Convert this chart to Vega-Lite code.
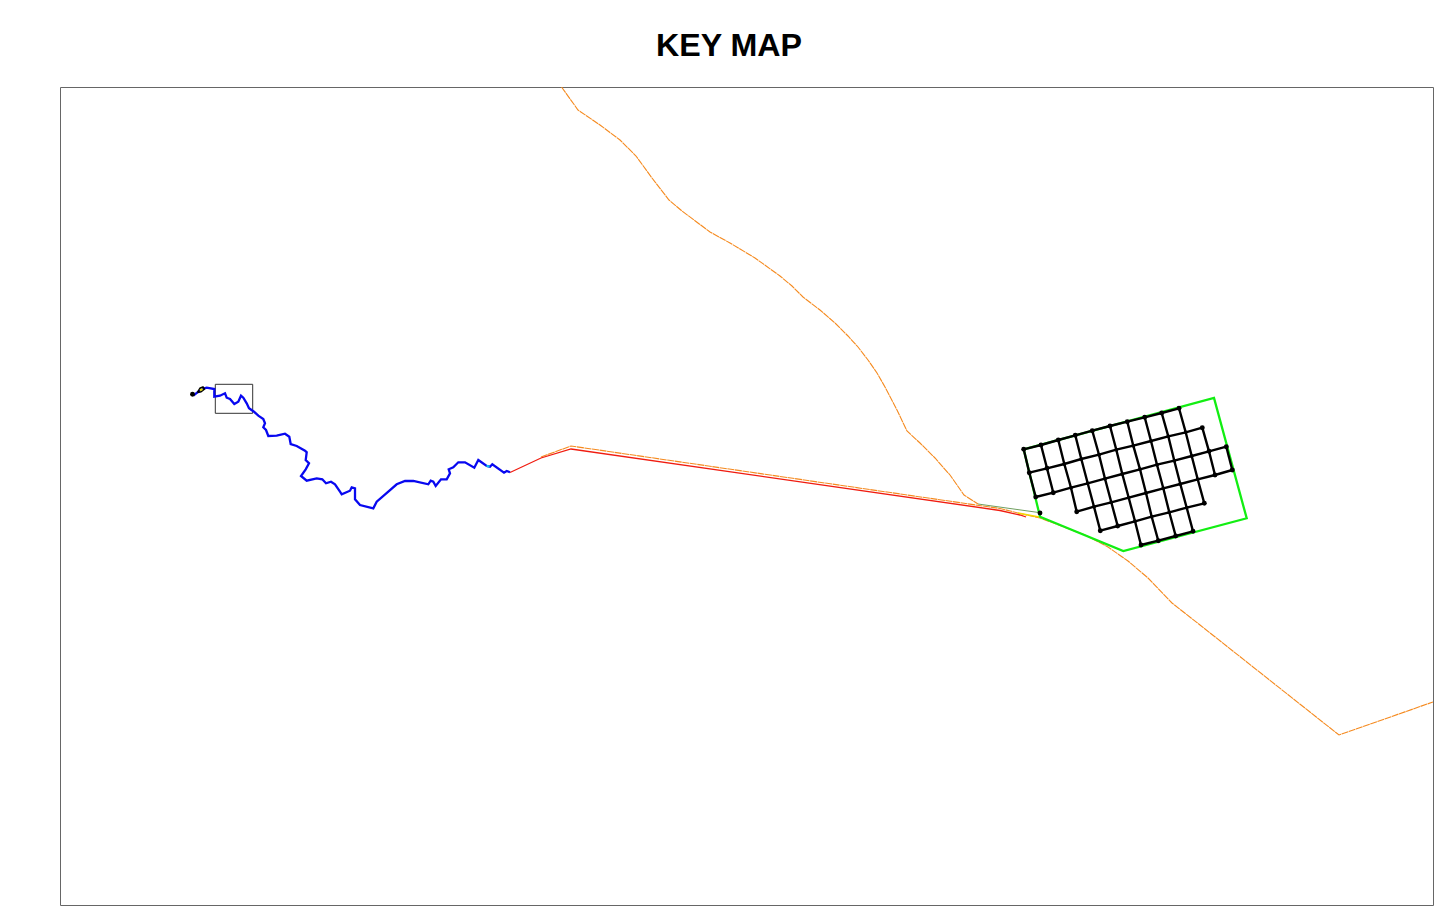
{"$schema":"https://vega.github.io/schema/vega-lite/v6.json","width":1373,"height":818,"autosize":{"type":"none"},"padding":{"left":60,"top":87,"right":6,"bottom":16},"background":"white","title":{"text":"KEY MAP","font":"Liberation Sans","fontSize":32.2,"fontWeight":"bold","color":"#000000","anchor":"middle","dx":-17.5,"offset":23.5},"config":{"view":{"stroke":"#666666","strokeWidth":1}},"datasets":{"roads":[{"s":"a","o":1,"x":561.5,"y":87},{"s":"a","o":2,"x":578,"y":110},{"s":"a","o":3,"x":600,"y":125},{"s":"a","o":4,"x":620,"y":140},{"s":"a","o":5,"x":636,"y":156},{"s":"a","o":6,"x":652,"y":178},{"s":"a","o":7,"x":669,"y":200},{"s":"a","o":8,"x":682,"y":211},{"s":"a","o":9,"x":710,"y":232},{"s":"a","o":10,"x":730,"y":243},{"s":"a","o":11,"x":755,"y":258},{"s":"a","o":12,"x":780,"y":276},{"s":"a","o":13,"x":792,"y":286},{"s":"a","o":14,"x":803,"y":297},{"s":"a","o":15,"x":820,"y":310},{"s":"a","o":16,"x":835,"y":323},{"s":"a","o":17,"x":848,"y":336},{"s":"a","o":18,"x":858,"y":347},{"s":"a","o":19,"x":868,"y":360},{"s":"a","o":20,"x":877,"y":373},{"s":"a","o":21,"x":885,"y":387},{"s":"a","o":22,"x":897,"y":410},{"s":"a","o":23,"x":907,"y":431},{"s":"a","o":24,"x":920,"y":443},{"s":"a","o":25,"x":935,"y":458},{"s":"a","o":26,"x":950,"y":475},{"s":"a","o":27,"x":964,"y":495},{"s":"a","o":28,"x":978,"y":504},{"s":"b","o":1,"x":541,"y":457},{"s":"b","o":2,"x":571,"y":446},{"s":"b","o":3,"x":1000,"y":508.5},{"s":"b","o":4,"x":1020,"y":513.5},{"s":"b","o":5,"x":1040,"y":518},{"s":"b","o":6,"x":1085,"y":535},{"s":"b","o":7,"x":1108,"y":547},{"s":"b","o":8,"x":1128,"y":561},{"s":"b","o":9,"x":1148,"y":578},{"s":"b","o":10,"x":1172,"y":603},{"s":"b","o":11,"x":1200,"y":625},{"s":"b","o":12,"x":1339,"y":735},{"s":"b","o":13,"x":1433,"y":702}],"red":[{"o":1,"x":510,"y":472.5},{"o":2,"x":541,"y":458},{"o":3,"x":571,"y":449},{"o":4,"x":1000,"y":510.5},{"o":5,"x":1020,"y":515},{"o":6,"x":1026,"y":517}],"link":[{"o":1,"x":978,"y":504},{"o":2,"x":1040,"y":512.7}],"yellowlink":[{"o":1,"x":1018,"y":513},{"o":2,"x":1039,"y":517}],"blue":[{"o":1,"x":193.3,"y":395.7},{"o":2,"x":201.7,"y":389},{"o":3,"x":206.7,"y":387.7},{"o":4,"x":214.3,"y":389},{"o":5,"x":214.3,"y":396.7},{"o":6,"x":220,"y":395.7},{"o":7,"x":225,"y":393.3},{"o":8,"x":226.7,"y":397.7},{"o":9,"x":230,"y":399},{"o":10,"x":234.3,"y":404},{"o":11,"x":238.3,"y":401.7},{"o":12,"x":241,"y":395.7},{"o":13,"x":243.3,"y":397.7},{"o":14,"x":246.7,"y":403.3},{"o":15,"x":249,"y":408.3},{"o":16,"x":254,"y":411.7},{"o":17,"x":258.3,"y":415.7},{"o":18,"x":263.3,"y":419},{"o":19,"x":265,"y":423.3},{"o":20,"x":263.3,"y":427.3},{"o":21,"x":266,"y":430},{"o":22,"x":268.3,"y":436},{"o":23,"x":276.7,"y":435.7},{"o":24,"x":285,"y":433.7},{"o":25,"x":289.3,"y":436.7},{"o":26,"x":290.7,"y":444},{"o":27,"x":296.7,"y":446},{"o":28,"x":305,"y":450.7},{"o":29,"x":306.7,"y":452.3},{"o":30,"x":305.7,"y":460},{"o":31,"x":309,"y":463.3},{"o":32,"x":305.7,"y":469.3},{"o":33,"x":301,"y":476},{"o":34,"x":306.7,"y":480.7},{"o":35,"x":316.7,"y":478.3},{"o":36,"x":322.3,"y":479.3},{"o":37,"x":326,"y":483.3},{"o":38,"x":331,"y":481.7},{"o":39,"x":335,"y":484.3},{"o":40,"x":340,"y":491.7},{"o":41,"x":341.7,"y":494.3},{"o":42,"x":350,"y":490.7},{"o":43,"x":351.7,"y":487.3},{"o":44,"x":355,"y":488.3},{"o":45,"x":355,"y":499.3},{"o":46,"x":360,"y":505},{"o":47,"x":373.3,"y":508.3},{"o":48,"x":376.7,"y":501.7},{"o":49,"x":388.3,"y":491.7},{"o":50,"x":396.7,"y":484.3},{"o":51,"x":405,"y":481},{"o":52,"x":413.3,"y":481},{"o":53,"x":428.3,"y":484.3},{"o":54,"x":430.7,"y":480.7},{"o":55,"x":433.3,"y":481.7},{"o":56,"x":435.7,"y":486},{"o":57,"x":441,"y":479.3},{"o":58,"x":446.7,"y":479.3},{"o":59,"x":450,"y":473.3},{"o":60,"x":448.7,"y":469.3},{"o":61,"x":453.3,"y":467.3},{"o":62,"x":458.3,"y":462.3},{"o":63,"x":465,"y":462.3},{"o":64,"x":474.3,"y":467.7},{"o":65,"x":478.3,"y":460},{"o":66,"x":486.7,"y":466},{"o":67,"x":490,"y":466.7},{"o":68,"x":492.3,"y":464.3},{"o":69,"x":504,"y":472.7},{"o":70,"x":506.7,"y":471},{"o":71,"x":510,"y":472.3}],"cyan":[{"o":1,"x":486.5,"y":465.8},{"o":2,"x":489.5,"y":466.8}],"ring":[{"o":1,"x":197.5,"y":392.5},{"o":2,"x":200,"y":388.2},{"o":3,"x":203,"y":387},{"o":4,"x":204.5,"y":389},{"o":5,"x":201,"y":391.8},{"o":6,"x":197.5,"y":392.5}],"yellow":[{"o":1,"x":200,"y":390.3},{"o":2,"x":202.5,"y":389}],"box":[{"x":215.3,"y":384.3,"x2":252.7,"y2":413.3}],"green":[{"o":1,"x":1023.7,"y":449.3},{"o":2,"x":1214,"y":398},{"o":3,"x":1246.7,"y":518.3},{"o":4,"x":1123.3,"y":551},{"o":5,"x":1040,"y":516.7},{"o":6,"x":1023.7,"y":449.3}],"nodes":[{"x":1023.7,"y":449.3},{"x":1041,"y":445},{"x":1058.3,"y":440},{"x":1075.3,"y":435.3},{"x":1092.3,"y":430.7},{"x":1110,"y":426},{"x":1127.3,"y":421.7},{"x":1144.7,"y":417.3},{"x":1161.7,"y":413},{"x":1179,"y":408.3},{"x":1029.3,"y":472.7},{"x":1047,"y":468.3},{"x":1202.3,"y":427.7},{"x":1035.7,"y":497},{"x":1053.3,"y":492.7},{"x":1226.3,"y":446.7},{"x":1076.7,"y":511.7},{"x":1232.3,"y":470},{"x":1215,"y":475},{"x":1209,"y":451.3},{"x":1100.3,"y":530.7},{"x":1117.7,"y":526},{"x":1204.3,"y":503.3},{"x":1141,"y":545},{"x":1158.3,"y":540.7},{"x":1175.7,"y":536},{"x":1193,"y":531.3},{"x":1040,"y":513},{"x":192.5,"y":394.3}],"grid":[{"l":"r1","o":1,"x":1023.7,"y":449.3},{"l":"r1","o":2,"x":1041,"y":445},{"l":"r1","o":3,"x":1058.3,"y":440},{"l":"r1","o":4,"x":1075.3,"y":435.3},{"l":"r1","o":5,"x":1092.3,"y":430.7},{"l":"r1","o":6,"x":1110,"y":426},{"l":"r1","o":7,"x":1127.3,"y":421.7},{"l":"r1","o":8,"x":1144.7,"y":417.3},{"l":"r1","o":9,"x":1161.7,"y":413},{"l":"r1","o":10,"x":1179,"y":408.3},{"l":"r2","o":1,"x":1029.3,"y":472.7},{"l":"r2","o":2,"x":1047,"y":468.3},{"l":"r2","o":3,"x":1064.3,"y":464},{"l":"r2","o":4,"x":1081.3,"y":459},{"l":"r2","o":5,"x":1099,"y":454.7},{"l":"r2","o":6,"x":1116.3,"y":449.7},{"l":"r2","o":7,"x":1133.3,"y":445.7},{"l":"r2","o":8,"x":1151,"y":441},{"l":"r2","o":9,"x":1168.3,"y":436.3},{"l":"r2","o":10,"x":1185.7,"y":432.3},{"l":"r2","o":11,"x":1202.3,"y":427.7},{"l":"r3","o":1,"x":1035.7,"y":497},{"l":"r3","o":2,"x":1053.3,"y":492.7},{"l":"r3","o":3,"x":1071,"y":487.7},{"l":"r3","o":4,"x":1087.7,"y":483.3},{"l":"r3","o":5,"x":1105,"y":478.7},{"l":"r3","o":6,"x":1122.3,"y":474},{"l":"r3","o":7,"x":1140,"y":469.3},{"l":"r3","o":8,"x":1157,"y":464.7},{"l":"r3","o":9,"x":1174.3,"y":460.7},{"l":"r3","o":10,"x":1191.7,"y":456},{"l":"r3","o":11,"x":1209,"y":451.3},{"l":"r3","o":12,"x":1226.3,"y":446.7},{"l":"r4","o":1,"x":1076.7,"y":511.7},{"l":"r4","o":2,"x":1094,"y":506.7},{"l":"r4","o":3,"x":1111.3,"y":502.3},{"l":"r4","o":4,"x":1128.7,"y":497.7},{"l":"r4","o":5,"x":1146,"y":493},{"l":"r4","o":6,"x":1163.3,"y":488.3},{"l":"r4","o":7,"x":1180.3,"y":484},{"l":"r4","o":8,"x":1197.7,"y":479.3},{"l":"r4","o":9,"x":1215,"y":475},{"l":"r4","o":10,"x":1232.3,"y":470},{"l":"r5","o":1,"x":1100.3,"y":530.7},{"l":"r5","o":2,"x":1117.7,"y":526},{"l":"r5","o":3,"x":1135,"y":521.3},{"l":"r5","o":4,"x":1151.7,"y":516.7},{"l":"r5","o":5,"x":1169.3,"y":512.3},{"l":"r5","o":6,"x":1186.7,"y":507.7},{"l":"r5","o":7,"x":1204.3,"y":503.3},{"l":"r6","o":1,"x":1141,"y":545},{"l":"r6","o":2,"x":1158.3,"y":540.7},{"l":"r6","o":3,"x":1175.7,"y":536},{"l":"r6","o":4,"x":1193,"y":531.3},{"l":"c1","o":1,"x":1023.7,"y":449.3},{"l":"c1","o":2,"x":1029.3,"y":472.7},{"l":"c1","o":3,"x":1035.7,"y":497},{"l":"c2","o":1,"x":1041,"y":445},{"l":"c2","o":2,"x":1047,"y":468.3},{"l":"c2","o":3,"x":1053.3,"y":492.7},{"l":"c3","o":1,"x":1058.3,"y":440},{"l":"c3","o":2,"x":1064.3,"y":464},{"l":"c3","o":3,"x":1071,"y":487.7},{"l":"c3","o":4,"x":1076.7,"y":511.7},{"l":"c4","o":1,"x":1075.3,"y":435.3},{"l":"c4","o":2,"x":1081.3,"y":459},{"l":"c4","o":3,"x":1087.7,"y":483.3},{"l":"c4","o":4,"x":1094,"y":506.7},{"l":"c4","o":5,"x":1100.3,"y":530.7},{"l":"c5","o":1,"x":1092.3,"y":430.7},{"l":"c5","o":2,"x":1099,"y":454.7},{"l":"c5","o":3,"x":1105,"y":478.7},{"l":"c5","o":4,"x":1111.3,"y":502.3},{"l":"c5","o":5,"x":1117.7,"y":526},{"l":"c6","o":1,"x":1110,"y":426},{"l":"c6","o":2,"x":1116.3,"y":449.7},{"l":"c6","o":3,"x":1122.3,"y":474},{"l":"c6","o":4,"x":1128.7,"y":497.7},{"l":"c6","o":5,"x":1135,"y":521.3},{"l":"c6","o":6,"x":1141,"y":545},{"l":"c7","o":1,"x":1127.3,"y":421.7},{"l":"c7","o":2,"x":1133.3,"y":445.7},{"l":"c7","o":3,"x":1140,"y":469.3},{"l":"c7","o":4,"x":1146,"y":493},{"l":"c7","o":5,"x":1151.7,"y":516.7},{"l":"c7","o":6,"x":1158.3,"y":540.7},{"l":"c8","o":1,"x":1144.7,"y":417.3},{"l":"c8","o":2,"x":1151,"y":441},{"l":"c8","o":3,"x":1157,"y":464.7},{"l":"c8","o":4,"x":1163.3,"y":488.3},{"l":"c8","o":5,"x":1169.3,"y":512.3},{"l":"c8","o":6,"x":1175.7,"y":536},{"l":"c9","o":1,"x":1161.7,"y":413},{"l":"c9","o":2,"x":1168.3,"y":436.3},{"l":"c9","o":3,"x":1174.3,"y":460.7},{"l":"c9","o":4,"x":1180.3,"y":484},{"l":"c9","o":5,"x":1186.7,"y":507.7},{"l":"c9","o":6,"x":1193,"y":531.3},{"l":"c10","o":1,"x":1179,"y":408.3},{"l":"c10","o":2,"x":1185.7,"y":432.3},{"l":"c10","o":3,"x":1191.7,"y":456},{"l":"c10","o":4,"x":1197.7,"y":479.3},{"l":"c10","o":5,"x":1204.3,"y":503.3},{"l":"c11","o":1,"x":1202.3,"y":427.7},{"l":"c11","o":2,"x":1209,"y":451.3},{"l":"c11","o":3,"x":1215,"y":475},{"l":"c12","o":1,"x":1226.3,"y":446.7},{"l":"c12","o":2,"x":1232.3,"y":470}]},"encoding":{"x":{"field":"x","type":"quantitative","scale":{"domain":[60,1433],"nice":false,"zero":false},"axis":null},"y":{"field":"y","type":"quantitative","scale":{"domain":[905,87],"nice":false,"zero":false},"axis":null},"order":{"field":"o","type":"quantitative"}},"layer":[{"data":{"name":"roads"},"mark":{"type":"line","color":"#f58a1f","strokeWidth":1.1,"strokeDash":[7,0.6],"clip":true},"encoding":{"detail":{"field":"s"}}},{"data":{"name":"red"},"mark":{"type":"line","color":"#f01c10","strokeWidth":1.3}},{"data":{"name":"yellowlink"},"mark":{"type":"line","color":"#f5d800","strokeWidth":1.5}},{"data":{"name":"link"},"mark":{"type":"line","color":"#6f9f5f","strokeWidth":1}},{"data":{"name":"box"},"mark":{"type":"rect","fill":null,"stroke":"#333333","strokeWidth":1},"encoding":{"x2":{"field":"x2"},"y2":{"field":"y2"},"order":null}},{"data":{"name":"green"},"mark":{"type":"line","color":"#12ee12","strokeWidth":2.3}},{"data":{"name":"blue"},"mark":{"type":"line","color":"#0808f0","strokeWidth":2.3}},{"data":{"name":"cyan"},"mark":{"type":"line","color":"#10c8f0","strokeWidth":2}},{"data":{"name":"ring"},"mark":{"type":"line","color":"#000000","strokeWidth":1.5}},{"data":{"name":"yellow"},"mark":{"type":"line","color":"#e8e000","strokeWidth":2}},{"data":{"name":"grid"},"mark":{"type":"line","color":"#000000","strokeWidth":2.4},"encoding":{"detail":{"field":"l"}}},{"data":{"name":"grid"},"mark":{"type":"circle","color":"#000000","opacity":1,"size":12},"encoding":{"order":null}},{"data":{"name":"nodes"},"mark":{"type":"circle","color":"#000000","opacity":1,"size":24},"encoding":{"order":null}}]}
